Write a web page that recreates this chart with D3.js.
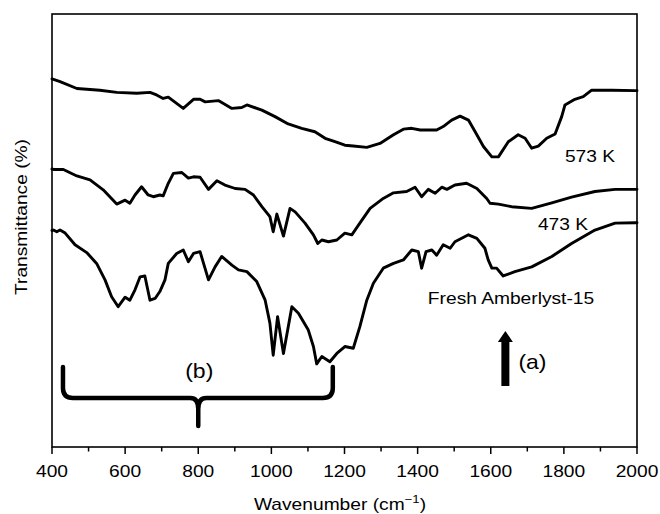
<!DOCTYPE html>
<html>
<head>
<meta charset="utf-8">
<script src="https://cdn.jsdelivr.net/npm/d3@7"></script>
<style>
  body { margin: 0; background: #fff; }
  text { font-family: "Liberation Sans", Arial, sans-serif; fill: #000; }
</style>
</head>
<body>
<div id="chart"></div>
<script>
// ---- data ----
const xTicks = [400, 600, 800, 1000, 1200, 1400, 1600, 1800, 2000];
const xMinor = [500, 700, 900, 1100, 1300, 1500, 1700, 1900];

// 573 K spectrum
const wn573 = [400, 404, 422, 468, 531, 577, 632, 668, 686, 704, 718, 759, 787, 805, 819, 855, 892, 919, 933, 974,
  1010, 1046, 1083, 1119, 1147, 1174, 1201, 1224, 1261, 1297, 1334, 1361, 1384, 1407, 1452, 1470, 1493, 1516, 1539,
  1562, 1580, 1603, 1621, 1648, 1675, 1694, 1712, 1730, 1753, 1776, 1794, 1803, 1830, 1853, 1876, 1931, 1995, 2000];
const t573 = [85.0, 84.9, 84.4, 82.8, 82.4, 81.9, 81.7, 81.9, 81.3, 80.5, 80.8, 78.2, 80.3, 80.3, 79.7, 80.0, 78.2, 78.4, 79.0, 77.8,
  76.3, 74.6, 73.6, 72.8, 71.3, 70.5, 69.7, 69.5, 69.2, 70.1, 72.1, 73.4, 73.6, 73.2, 73.2, 74.0, 75.5, 76.4, 75.5,
  72.1, 69.4, 67.0, 67.0, 70.5, 72.1, 71.3, 69.0, 69.5, 71.3, 72.3, 76.3, 79.0, 80.3, 80.9, 82.4, 82.4, 82.3, 82.3];

// 473 K spectrum
const wn473 = [400, 404, 431, 468, 504, 540, 577, 600, 613, 627, 645, 663, 677, 695, 704, 718, 732, 755, 773, 787, 805,
  828, 851, 873, 901, 928, 951, 974, 996, 1005, 1015, 1033, 1051, 1065, 1092, 1115, 1127, 1138, 1156, 1179, 1201,
  1220, 1242, 1270, 1306, 1334, 1370, 1393, 1411, 1429, 1448, 1466, 1480, 1502, 1534, 1562, 1589, 1598, 1621, 1657,
  1712, 1767, 1821, 1885, 1940, 1995, 2000];
const t473 = [64.2, 64.1, 64.1, 62.6, 61.7, 59.4, 56.1, 57.0, 56.3, 58.2, 60.1, 58.2, 57.8, 58.2, 58.0, 60.9, 63.2, 63.4, 62.1, 62.4, 62.3,
  59.5, 61.5, 60.5, 59.7, 59.5, 58.2, 55.5, 53.2, 49.7, 53.8, 48.7, 55.1, 54.3, 51.7, 49.0, 47.0, 47.8, 47.4, 47.8, 49.4,
  49.0, 51.7, 55.1, 57.4, 58.7, 59.0, 60.0, 57.8, 59.5, 58.6, 60.0, 59.5, 60.5, 60.9, 59.7, 57.4, 56.3, 56.1, 55.5,
  55.1, 56.4, 57.7, 59.0, 59.5, 59.5, 59.5];

// Fresh Amberlyst-15 spectrum
const wnFresh = [400, 404, 413, 422, 436, 463, 495, 522, 545, 563, 581, 600, 613, 627, 641, 654, 668, 682, 695, 709, 718,
  741, 759, 773, 787, 805, 828, 846, 864, 892, 910, 933, 960, 983, 996, 1005, 1017, 1033, 1056, 1074, 1101, 1115,
  1124, 1138, 1160, 1179, 1201, 1224, 1242, 1261, 1279, 1306, 1334, 1361, 1384, 1402, 1411, 1423, 1439, 1452, 1470,
  1489, 1502, 1539, 1562, 1584, 1593, 1603, 1616, 1634, 1666, 1712, 1767, 1821, 1885, 1940, 1995, 2000];
const tFresh = [50.0, 50.1, 49.7, 50.1, 49.4, 46.7, 44.9, 42.4, 38.6, 34.7, 32.4, 34.6, 33.9, 36.3, 39.3, 39.5, 33.9, 34.3, 35.9, 38.6, 42.4,
  44.7, 45.5, 42.8, 44.7, 45.1, 38.6, 41.6, 44.0, 42.0, 40.9, 40.5, 38.2, 33.9, 28.6, 21.2, 30.1, 21.6, 32.4, 30.9, 27.0, 23.2,
  19.2, 20.9, 19.7, 21.6, 23.2, 22.8, 27.8, 33.9, 37.8, 41.3, 42.4, 43.2, 45.5, 45.1, 41.3, 45.1, 45.5, 44.3, 46.7,
  45.9, 47.4, 49.0, 48.2, 45.9, 43.2, 41.3, 41.3, 39.5, 40.5, 41.6, 44.0, 47.0, 50.1, 51.7, 51.8, 51.8];

const seriesNames = ["573 K", "473 K", "Fresh Amberlyst-15"];

// ---- layout ----
const W = 660, H = 514;
const margin = {top: 14, right: 23, bottom: 67, left: 52};
const TX = 1.2; // glyphs in the reference are horizontally wide

const svg = d3.select("#chart").append("svg")
    .attr("width", W)
    .attr("height", H);

const x = d3.scaleLinear().domain([400, 2000]).range([margin.left, W - margin.right]);
const y = d3.scaleLinear().domain([0, 100]).range([H - margin.bottom, margin.top]);

// helper for wide text
function wideText(g, str, px, py, size, anchor, sx) {
    return g.append("text")
        .attr("transform", "translate(" + px + "," + py + ") scale(" + (sx || TX) + ",1)")
        .attr("text-anchor", anchor || "middle")
        .style("font-size", size + "px")
        .text(str);
}

// frame
svg.append("rect")
    .attr("x", x(400)).attr("y", y(100))
    .attr("width", x(2000) - x(400)).attr("height", y(0) - y(100))
    .attr("fill", "none").attr("stroke", "#000").attr("stroke-width", 1.6);

// x axis ticks
const xAxis = svg.append("g").attr("class", "x-axis");
xAxis.selectAll(".major").data(xTicks).enter().append("line")
    .attr("x1", d => x(d)).attr("x2", d => x(d))
    .attr("y1", y(0)).attr("y2", y(0) + 7)
    .attr("stroke", "#000").attr("stroke-width", 1.5);
xAxis.selectAll(".minor").data(xMinor).enter().append("line")
    .attr("x1", d => x(d)).attr("x2", d => x(d))
    .attr("y1", y(0)).attr("y2", y(0) + 4.5)
    .attr("stroke", "#000").attr("stroke-width", 1.5);
xTicks.forEach(t => wideText(xAxis, t, x(t), y(0) + 30, 16));

// axis titles
const xt = svg.append("text")
    .attr("transform", "translate(" + (W / 2 + 10) + ",510) scale(" + TX + ",1)")
    .attr("text-anchor", "middle")
    .style("font-size", "16px");
xt.append("tspan").text("Wavenumber (cm");
xt.append("tspan").attr("dy", -7).style("font-size", "11px").text("\u22121");
xt.append("tspan").attr("dy", 7).text(")");

svg.append("text")
    .attr("transform", "translate(27," + 217 + ") rotate(-90) scale(" + TX + ",1)")
    .attr("text-anchor", "middle")
    .style("font-size", "16px")
    .text("Transmittance (%)");

// spectra
const line = d3.line().x(d => x(d[0])).y(d => y(d[1]));
const spectra = [d3.zip(wn573, t573), d3.zip(wn473, t473), d3.zip(wnFresh, tFresh)];
svg.append("g").selectAll("path").data(spectra).enter().append("path")
    .attr("d", line)
    .attr("fill", "none")
    .attr("stroke", "#000")
    .attr("stroke-width", 2.9)
    .attr("stroke-linejoin", "round")
    .attr("stroke-linecap", "round");

// series labels
wideText(svg, seriesNames[0], 590, 162, 16);
wideText(svg, seriesNames[1], 563, 230, 16);
wideText(svg, seriesNames[2], 511, 304, 16);

// arrow (a)
const ax = x(1640);
svg.append("path")
    .attr("d", `M${ax - 4},386 L${ax - 4},342 L${ax - 7.5},342 L${ax},331 L${ax + 7.5},342 L${ax + 4},342 L${ax + 4},386 Z`)
    .attr("fill", "#000");
wideText(svg, "(a)", ax + 13, 369, 20, "start", 1.15);

// bracket (b)
const bx0 = x(430), bx1 = x(1168), bm = x(800);
svg.append("path")
    .attr("d", `M${bx0},367 L${bx0},388 Q${bx0},398 ${bx0 + 10},398 L${bm - 8},398 Q${bm},398 ${bm},409 L${bm},426 ` +
               `M${bx1},367 L${bx1},388 Q${bx1},398 ${bx1 - 10},398 L${bm + 8},398 Q${bm},398 ${bm},409`)
    .attr("fill", "none")
    .attr("stroke", "#000")
    .attr("stroke-width", 4.5)
    .attr("stroke-linecap", "round")
    .attr("stroke-linejoin", "round");
wideText(svg, "(b)", bm + 1, 378, 20, "middle", 1.15);
</script>
</body>
</html>
